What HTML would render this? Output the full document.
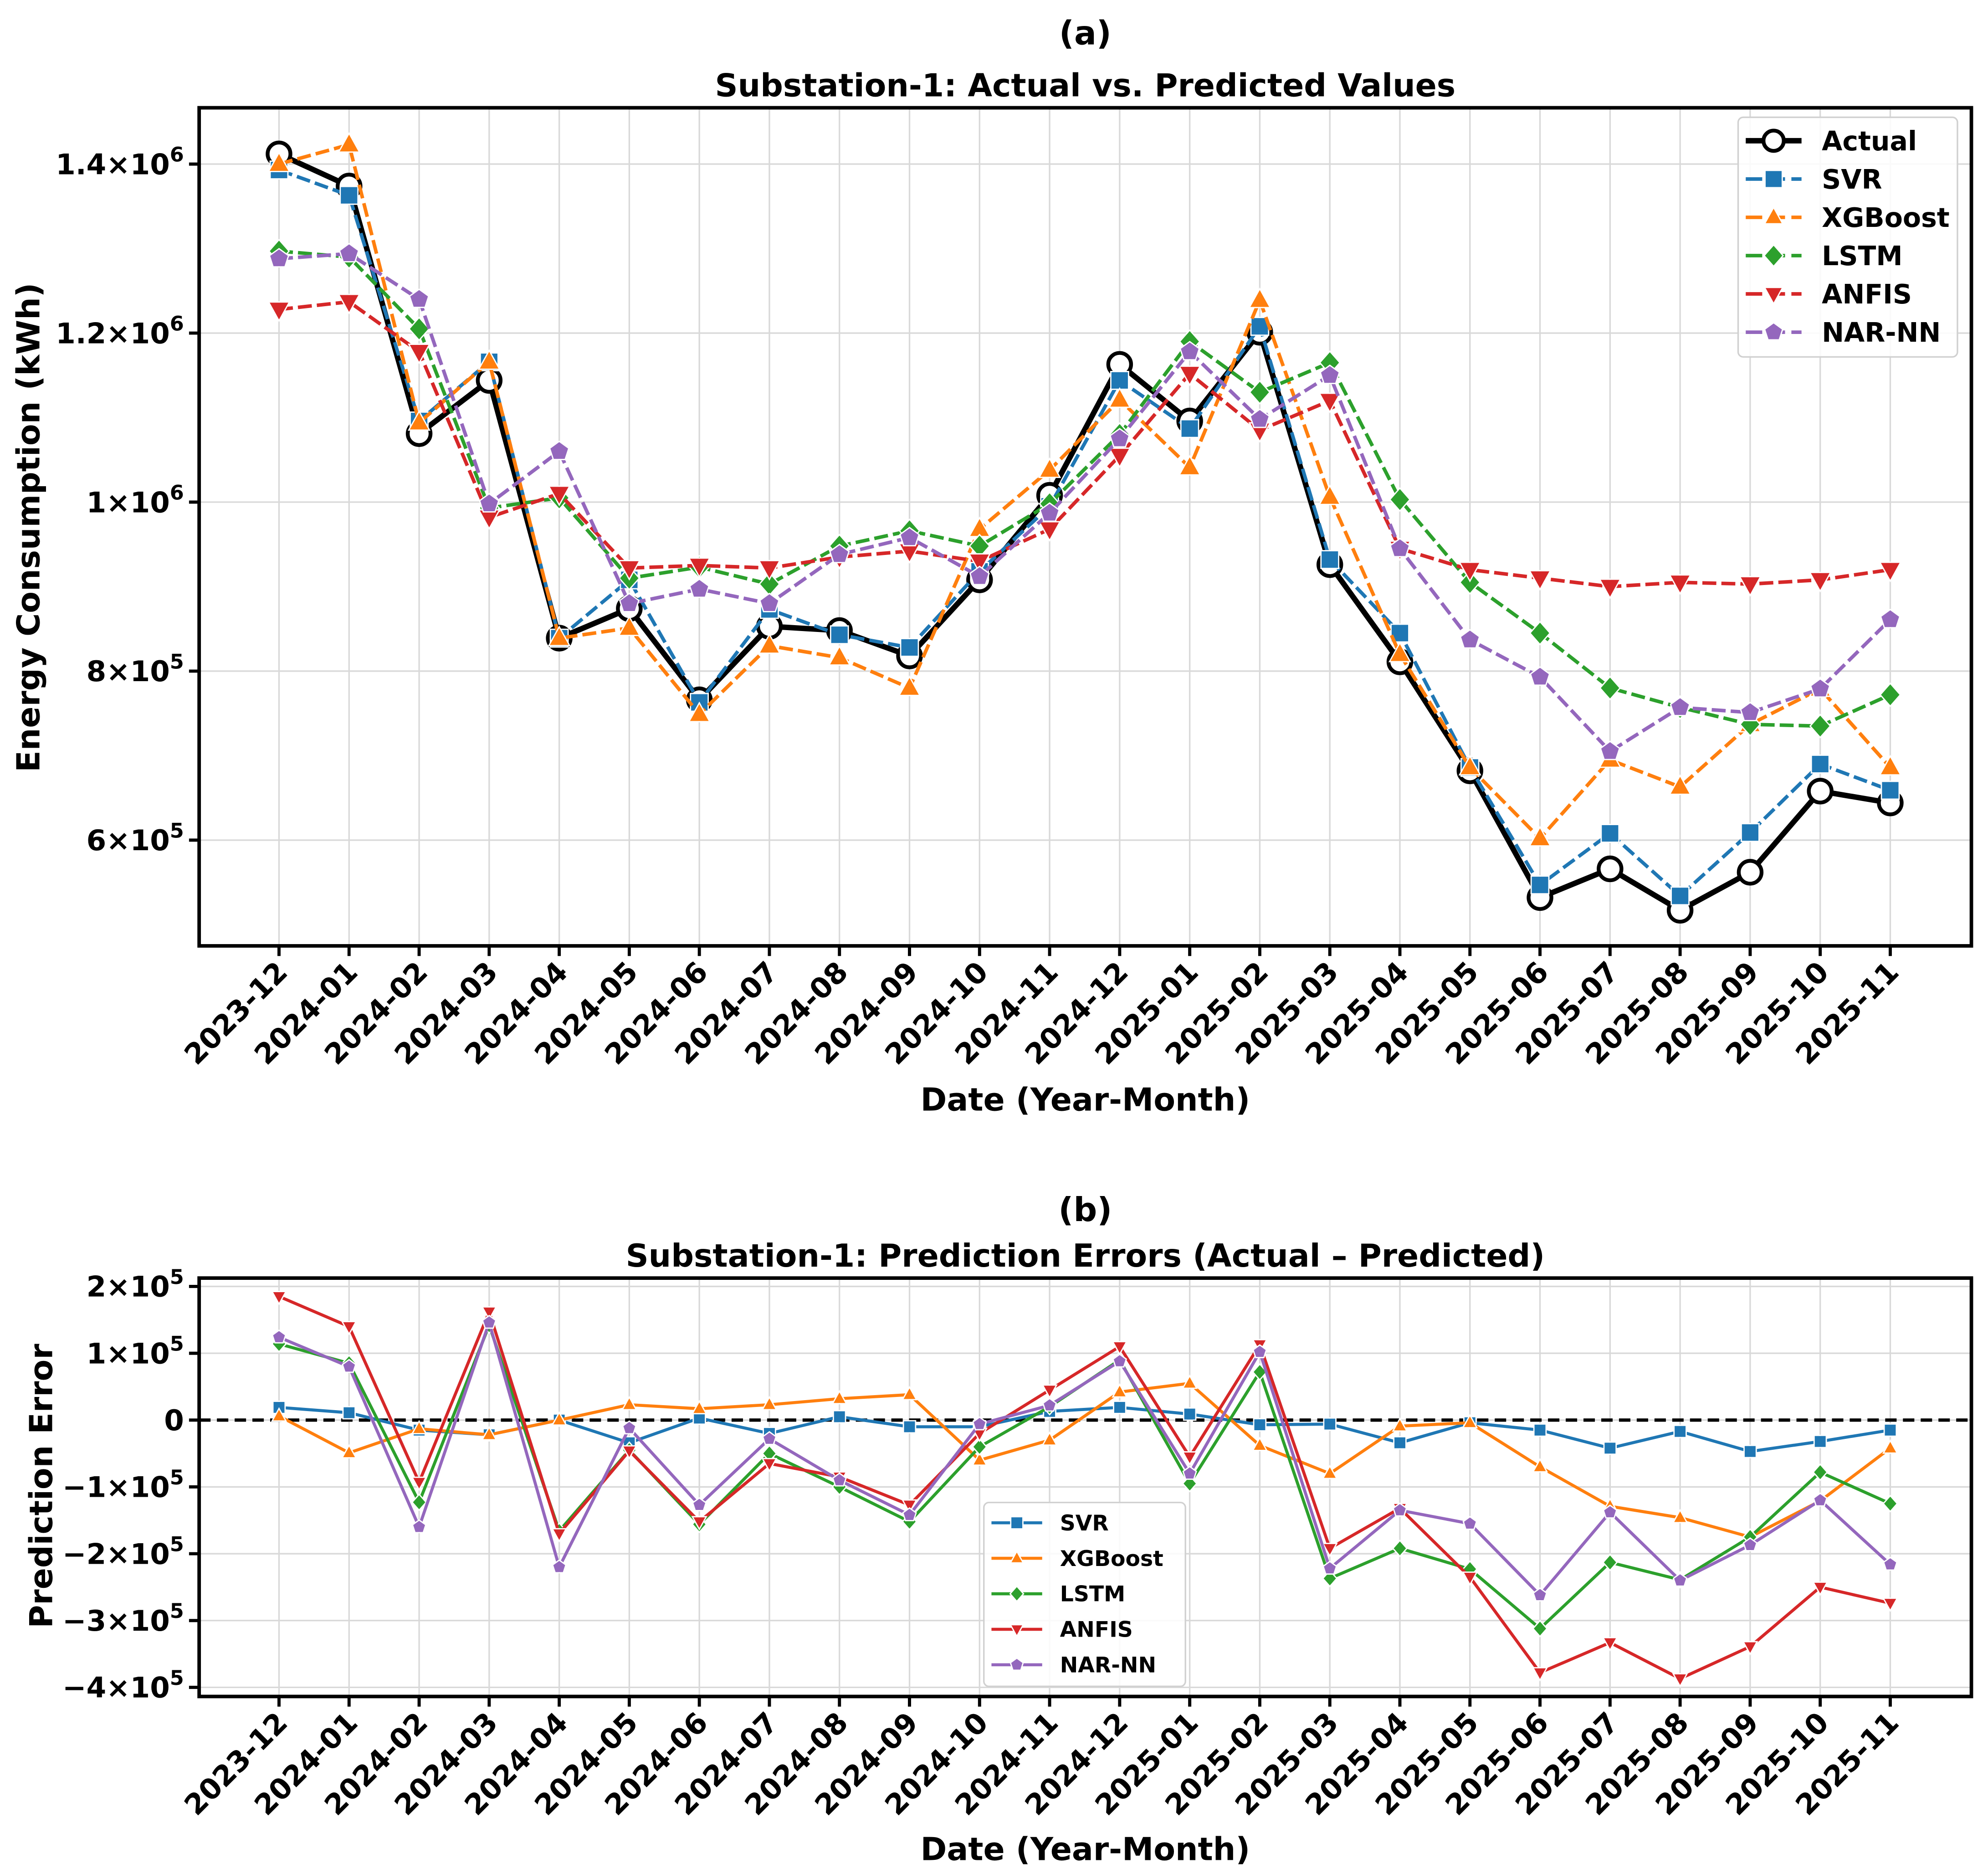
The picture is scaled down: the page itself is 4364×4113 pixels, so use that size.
<!DOCTYPE html>
<html><head><meta charset="utf-8">
<style>
html,body{margin:0;padding:0;background:#fff;}
svg{display:block;}
text{font-family:"DejaVu Sans","Liberation Sans",sans-serif;font-weight:bold;fill:#000;}
</style></head>
<body>
<svg id="fig" xmlns="http://www.w3.org/2000/svg" width="4364" height="4113" viewBox="0 0 1568 1478">
<rect x="0" y="0" width="1568" height="1478" fill="#fff"/>
<g id="top"></g>
<g id="bot"></g>
</svg>
<script>
const months = ["2023-12","2024-01","2024-02","2024-03","2024-04","2024-05","2024-06","2024-07","2024-08","2024-09","2024-10","2024-11","2024-12","2025-01","2025-02","2025-03","2025-04","2025-05","2025-06","2025-07","2025-08","2025-09","2025-10","2025-11"];
// Panel (a) values in units of 1e5 kWh
const actualVals = [14.12,13.74,10.81,11.44,8.39,8.74,7.66,8.53,8.48,8.18,9.08,10.08,11.63,10.96,12.01,9.26,8.11,6.82,5.32,5.66,5.17,5.62,6.58,6.44];
const svrVals = [13.93,13.63,10.96,11.66,8.39,9.08,7.63,8.73,8.43,8.28,9.18,9.95,11.44,10.87,12.08,9.32,8.45,6.86,5.47,6.08,5.34,6.09,6.90,6.59];
const xgbVals = [14.00,14.23,10.94,11.66,8.39,8.51,7.49,8.30,8.16,7.80,9.68,10.38,11.21,10.41,12.39,10.06,8.20,6.86,6.02,6.95,6.63,7.37,7.79,6.86];
const lstmVals = [12.97,12.90,12.05,9.93,10.05,9.10,9.23,9.03,9.48,9.66,9.48,9.98,10.80,11.90,11.30,11.65,10.03,9.05,8.45,7.80,7.57,7.37,7.35,7.72];
const anfisVals = [12.28,12.37,11.78,9.82,10.10,9.22,9.25,9.22,9.35,9.42,9.30,9.68,10.55,11.52,10.85,11.20,9.45,9.20,9.10,9.00,9.05,9.03,9.08,9.20];
const narVals = [12.88,12.94,12.40,9.98,10.60,8.80,8.97,8.80,9.38,9.58,9.12,9.87,10.75,11.78,10.98,11.50,9.45,8.37,7.93,7.05,7.57,7.51,7.79,8.61];
// Panel (b) errors in units of 1e5
const svrErr = [0.19,0.11,-0.15,-0.22,0.00,-0.34,0.03,-0.20,0.05,-0.10,-0.10,0.13,0.19,0.09,-0.07,-0.06,-0.34,-0.04,-0.15,-0.42,-0.17,-0.47,-0.32,-0.15];
const xgbErr = [0.06,-0.49,-0.13,-0.22,0.00,0.23,0.17,0.23,0.32,0.38,-0.60,-0.30,0.42,0.55,-0.38,-0.80,-0.09,-0.04,-0.70,-1.29,-1.46,-1.75,-1.21,-0.42];
const lstmErr = [1.14,0.85,-1.23,1.42,-1.66,-0.45,-1.56,-0.50,-1.00,-1.52,-0.40,0.20,0.90,-0.95,0.72,-2.37,-1.92,-2.23,-3.12,-2.13,-2.39,-1.75,-0.78,-1.25];
const anfisErr = [1.85,1.40,-0.93,1.62,-1.70,-0.46,-1.52,-0.65,-0.85,-1.27,-0.20,0.45,1.10,-0.55,1.13,-1.92,-1.32,-2.35,-3.78,-3.33,-3.87,-3.39,-2.50,-2.74];
const narErr = [1.24,0.80,-1.60,1.46,-2.20,-0.12,-1.27,-0.28,-0.90,-1.42,-0.06,0.22,0.88,-0.80,1.02,-2.22,-1.35,-1.55,-2.62,-1.38,-2.40,-1.87,-1.20,-2.16];
const topTicks = [6,8,10,12,14];
const topTickLabels = [["6","10","5"],["8","10","5"],["","1","10","6"],["1.2","10","6"],["1.4","10","6"]];
const botTicks = [2,1,0,-1,-2,-3,-4];
const botTickLabels = [["2","5"],["1","5"],["0",""],["\u22121","5"],["\u22122","5"],["\u22123","5"],["\u22124","5"]];

const NS="http://www.w3.org/2000/svg";
function mk(parent,tag,attrs,txt){const e=document.createElementNS(NS,tag);for(const k in attrs)e.setAttribute(k,attrs[k]);if(txt!==undefined)e.textContent=txt;parent.appendChild(e);return e;}

const X0=157,X1=1555;
const TICKFS=22.5, SUPFS=16, AXFS=25;
function xs(i){return 220+i*(1491-220)/23;}

function marker(g,type,x,y,s,color,name){
  let e;
  if(type==='circle'){e=mk(g,'circle',{cx:x,cy:y,r:s,fill:'#fff',stroke:'#000','stroke-width':3});}
  else if(type==='square'){e=mk(g,'rect',{x:x-s,y:y-s,width:2*s,height:2*s,fill:color,stroke:'#fff','stroke-width':1});}
  else if(type==='tri'){e=mk(g,'polygon',{points:`${x},${y-s*1.15} ${x-s*1.05},${y+s*0.75} ${x+s*1.05},${y+s*0.75}`,fill:color,stroke:'#fff','stroke-width':1});}
  else if(type==='tridown'){e=mk(g,'polygon',{points:`${x},${y+s*1.15} ${x-s*1.05},${y-s*0.75} ${x+s*1.05},${y-s*0.75}`,fill:color,stroke:'#fff','stroke-width':1});}
  else if(type==='diamond'){e=mk(g,'polygon',{points:`${x},${y-s*1.25} ${x+s*1.1},${y} ${x},${y+s*1.25} ${x-s*1.1},${y}`,fill:color,stroke:'#fff','stroke-width':1});}
  else {let p=[];for(let k=0;k<5;k++){const a=-Math.PI/2+k*2*Math.PI/5;p.push((x+s*1.1*Math.cos(a)).toFixed(2)+','+(y+s*1.1*Math.sin(a)).toFixed(2));}
    e=mk(g,'polygon',{points:p.join(' '),fill:color,stroke:'#fff','stroke-width':1});}
  
  
  return e;
}

function axesFrame(g,Y0,Y1,yTicks,yFn,labelFn){
  months.forEach((m,i)=>{const l=mk(g,'line',{x1:xs(i),x2:xs(i),y1:Y0,y2:Y1,stroke:'#d9d9d9','stroke-width':1.2});
    
    });
  yTicks.forEach(v=>{const l=mk(g,'line',{x1:X0,x2:X1,y1:yFn(v),y2:yFn(v),stroke:'#d9d9d9','stroke-width':1.2});
    
    });
  months.forEach((m,i)=>{
    mk(g,'line',{x1:xs(i),x2:xs(i),y1:Y1,y2:Y1+8,stroke:'#000','stroke-width':2.5});
    const t=mk(g,'text',{x:xs(i)+8,y:Y1+22,'font-size':TICKFS,'text-anchor':'end',transform:`rotate(-45 ${xs(i)+8} ${Y1+22})`},m);
    
    
  });
  yTicks.forEach((v,k)=>{
    const y=yFn(v);
    mk(g,'line',{x1:X0-8,x2:X0,y1:y,y2:y,stroke:'#000','stroke-width':2.5});
    const t=labelFn(g,v,k,y);
    
    
  });
}

function drawSeries(g,vals,yFn,color,type,ms,lw,dash,name){
  const sg=mk(g,'g',{});
  
  
  const pts=vals.map((v,i)=>xs(i).toFixed(2)+','+yFn(v).toFixed(2)).join(' ');
  const pl=mk(sg,'polyline',{points:pts,fill:'none',stroke:color,'stroke-width':lw,'stroke-linejoin':'round','stroke-dasharray':dash||'none'});
  
  
  vals.forEach((v,i)=>marker(sg,type,xs(i),yFn(v),ms,color,name+'-point'));
}

// ---------- Panel A ----------
(function(){
  const g=document.getElementById('top');
  const Y0=85,Y1=746;
  const yFn=v=>396-(v-10)/2*133.3;
  const t1=mk(g,'text',{x:856,y:35,'font-size':26,'text-anchor':'middle'},'(a)');
  
  
  const t2=mk(g,'text',{x:856,y:76,'font-size':25,'text-anchor':'middle'},'Substation-1: Actual vs. Predicted Values');
  
  
  axesFrame(g,Y0,Y1,topTicks,yFn,(g,v,k,y)=>{
    const L=topTickLabels[k];const t=mk(g,'text',{x:X0-12,y:y+8,'font-size':TICKFS,'text-anchor':'end'});
    if(L.length===3){mk(t,'tspan',{},L[0]+'\u00d7'+L[1]);mk(t,'tspan',{dy:-10,'font-size':SUPFS},L[2]);}
    else{mk(t,'tspan',{},L[1]+'\u00d7'+L[2]);mk(t,'tspan',{dy:-10,'font-size':SUPFS},L[3]);}
    return t;});
  drawSeries(g,actualVals,yFn,'#000','circle',9,4.3,null,'actual');
  drawSeries(g,svrVals,yFn,'#1f77b4','square',7,2.8,'11,4','svr');
  drawSeries(g,xgbVals,yFn,'#ff7f0e','tri',7.8,2.8,'11,4','xgboost');
  drawSeries(g,lstmVals,yFn,'#2ca02c','diamond',7.2,2.8,'11,4','lstm');
  drawSeries(g,anfisVals,yFn,'#d62728','tridown',7.8,2.8,'11,4','anfis');
  drawSeries(g,narVals,yFn,'#9467bd','pent',7.2,2.8,'11,4','nar-nn');
  const fr=mk(g,'rect',{x:X0,y:Y0,width:X1-X0,height:Y1-Y0,fill:'none',stroke:'#000','stroke-width':2.8});
  
  
  const yl=mk(g,'text',{x:31,y:416,'font-size':AXFS,'text-anchor':'middle',transform:'rotate(-90 31 416)'},'Energy Consumption (kWh)');
  
  
  const xl=mk(g,'text',{x:856,y:876,'font-size':AXFS,'text-anchor':'middle'},'Date (Year-Month)');
  
  
  const lg=mk(g,'g',{});
  
  
  mk(lg,'rect',{x:1371,y:92.5,width:173,height:189,rx:4,fill:'#fff','fill-opacity':0.85,stroke:'#d0d0d0','stroke-width':1.2});
  const items=[['Actual','#000','circle',null,4.3],['SVR','#1f77b4','square','11,4',2.8],['XGBoost','#ff7f0e','tri','11,4',2.8],['LSTM','#2ca02c','diamond','11,4',2.8],['ANFIS','#d62728','tridown','11,4',2.8],['NAR-NN','#9467bd','pent','11,4',2.8]];
  items.forEach((it,k)=>{
    const y=111+k*30.2;
    const eg=mk(lg,'g',{});
    
    
    mk(eg,'line',{x1:1377,x2:1421,y1:y,y2:y,stroke:it[1],'stroke-width':it[4],'stroke-dasharray':it[3]?'13,5':'none'});
    marker(eg,it[2],1399,y,it[2]==='circle'?8:6.8,it[1],'legend-marker');
    mk(eg,'text',{x:1437,y:y+7.5,'font-size':21},it[0]);
  });
})();

// ---------- Panel B ----------
(function(){
  const g=document.getElementById('bot');
  const Y0=1008,Y1=1338;
  const yFn=v=>1120-v*52.7;
  const t1=mk(g,'text',{x:856,y:963,'font-size':26,'text-anchor':'middle'},'(b)');
  
  
  const t2=mk(g,'text',{x:856,y:999,'font-size':25,'text-anchor':'middle'},'Substation-1: Prediction Errors (Actual \u2013 Predicted)');
  
  
  axesFrame(g,Y0,Y1,botTicks,yFn,(g,v,k,y)=>{
    const L=botTickLabels[k];const t=mk(g,'text',{x:X0-12,y:y+8,'font-size':TICKFS,'text-anchor':'end'});
    if(L[1]===''){mk(t,'tspan',{},L[0]);}
    else{mk(t,'tspan',{},L[0]+'\u00d710');mk(t,'tspan',{dy:-10,'font-size':SUPFS},L[1]);}
    return t;});
  const zl=mk(g,'line',{x1:X0,x2:X1,y1:yFn(0),y2:yFn(0),stroke:'#000','stroke-width':2.6,'stroke-dasharray':'9,5'});
  
  
  drawSeries(g,svrErr,yFn,'#1f77b4','square',4.8,2.4,null,'svr-error');
  drawSeries(g,xgbErr,yFn,'#ff7f0e','tri',5.2,2.4,null,'xgboost-error');
  drawSeries(g,lstmErr,yFn,'#2ca02c','diamond',5,2.4,null,'lstm-error');
  drawSeries(g,anfisErr,yFn,'#d62728','tridown',5.2,2.4,null,'anfis-error');
  drawSeries(g,narErr,yFn,'#9467bd','pent',5,2.4,null,'nar-nn-error');
  const fr=mk(g,'rect',{x:X0,y:Y0,width:X1-X0,height:Y1-Y0,fill:'none',stroke:'#000','stroke-width':2.8});
  
  
  const yl=mk(g,'text',{x:41,y:1172,'font-size':AXFS,'text-anchor':'middle',transform:'rotate(-90 41 1172)'},'Prediction Error');
  
  
  const xl=mk(g,'text',{x:856,y:1467,'font-size':AXFS,'text-anchor':'middle'},'Date (Year-Month)');
  
  
  const lg=mk(g,'g',{});
  
  
  mk(lg,'rect',{x:776,y:1185,width:159,height:145,rx:4,fill:'#fff','fill-opacity':0.85,stroke:'#d0d0d0','stroke-width':1.2});
  const items=[['SVR','#1f77b4','square'],['XGBoost','#ff7f0e','tri'],['LSTM','#2ca02c','diamond'],['ANFIS','#d62728','tridown'],['NAR-NN','#9467bd','pent']];
  items.forEach((it,k)=>{
    const y=1201+k*28;
    const eg=mk(lg,'g',{});
    
    
    mk(eg,'line',{x1:782,x2:822,y1:y,y2:y,stroke:it[1],'stroke-width':2.4});
    marker(eg,it[2],802,y,4.8,it[1],'legend-marker');
    mk(eg,'text',{x:836,y:y+6,'font-size':17},it[0]);
  });
})();
</script>
</body></html>
